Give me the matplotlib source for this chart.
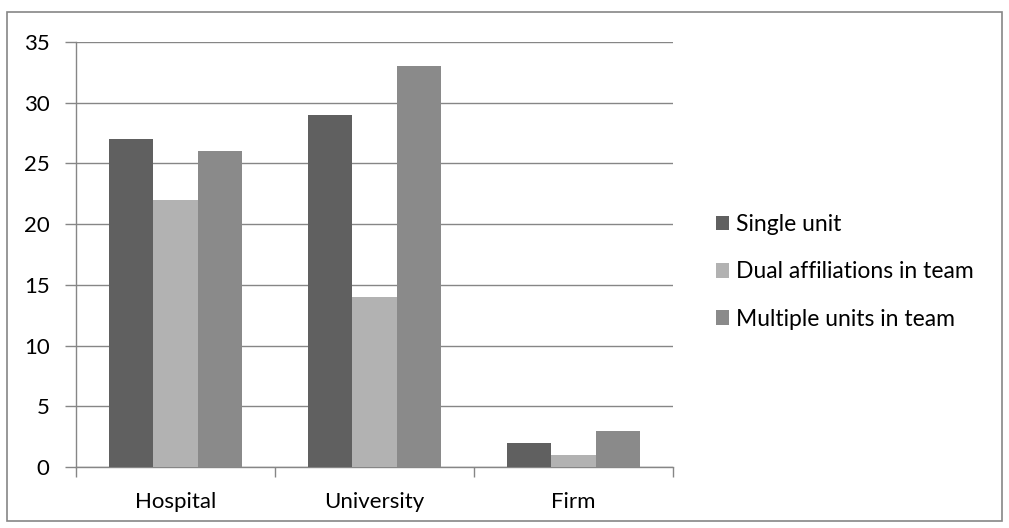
import matplotlib.pyplot as plt
import numpy as np
from matplotlib.patches import Rectangle

categories = ["Hospital", "University", "Firm"]
series_names = ["Single unit", "Dual affiliations in team", "Multiple units in team"]
single_unit = [27, 29, 2]
dual_aff = [22, 14, 1]
multiple_units = [26, 33, 3]
colors = ["#606060", "#b2b2b2", "#8a8a8a"]

plt.rcParams['font.family'] = ['Lato', 'DejaVu Sans']

fig = plt.figure(figsize=(10.09, 5.28), dpi=100)
ax = fig.add_axes([76 / 1009, 1 - 467 / 528, (673 - 76) / 1009, (467 - 42) / 528])

# outer chart border
fig.patches.append(Rectangle((7 / 1009, 1 - 521 / 528), 995 / 1009, 509 / 528,
                             transform=fig.transFigure, fill=False,
                             edgecolor="#868686", linewidth=1.2))

x = np.arange(len(categories))
w = 1 / 4.5
for i, (vals, name) in enumerate(zip([single_unit, dual_aff, multiple_units], series_names)):
    ax.bar(x + (i - 1) * w, vals, width=w, color=colors[i], label=name, zorder=3)

ax.set_xlim(-0.5, 2.5)
ax.set_ylim(0, 35)
ax.set_yticks(range(0, 36, 5))
ax.grid(axis='y', color="#868686", linewidth=1, zorder=0)
ax.set_axisbelow(True)

ax.set_xticks([-0.5, 0.5, 1.5, 2.5])
ax.set_xticklabels([])
ax.set_xticks(x, minor=True)
ax.set_xticklabels(categories, minor=True, fontsize=16)
ax.tick_params(axis='x', which='minor', length=0, pad=18)
ax.tick_params(axis='x', which='major', length=7, color="#868686", width=1)
ax.tick_params(axis='y', length=8, color="#868686", width=1, labelsize=16, pad=11)

for s in ["top", "right"]:
    ax.spines[s].set_visible(False)
for s in ["left", "bottom"]:
    ax.spines[s].set_color("#868686")
    ax.spines[s].set_linewidth(1)

ax.legend(loc="center left", bbox_to_anchor=(1.037, 0.459), frameon=False, fontsize=16.5,
          handlelength=0.6, handleheight=0.6, handletextpad=0.3, labelspacing=1.15)

fig.savefig("out.png", dpi=100)
